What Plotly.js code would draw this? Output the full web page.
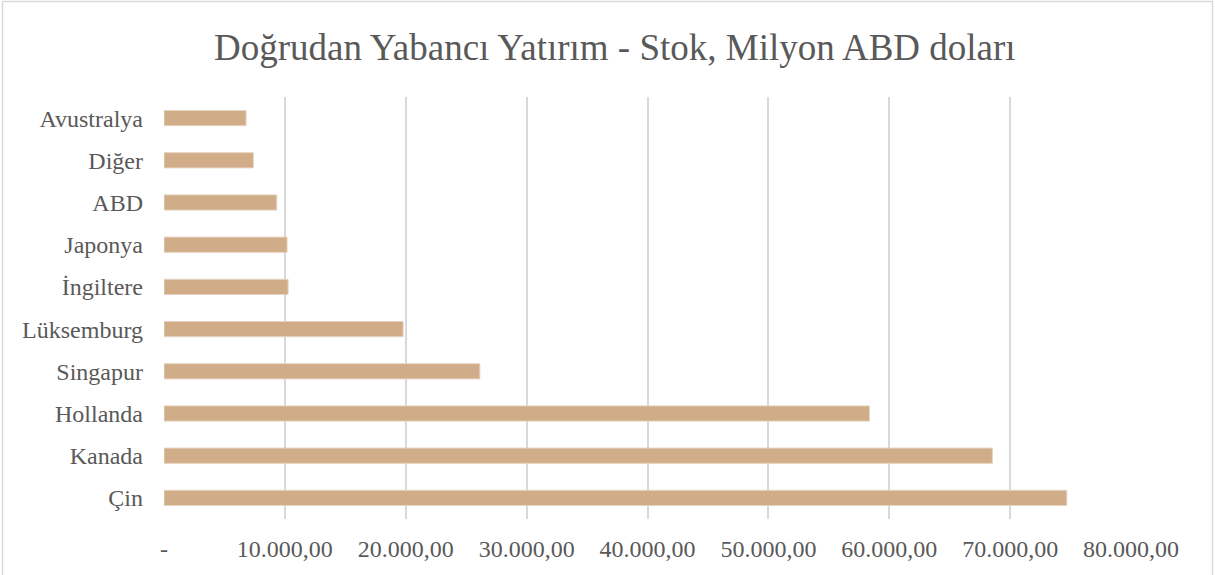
<!DOCTYPE html>
<html>
<head>
<meta charset="utf-8">
<script src="https://cdn.plot.ly/plotly-3.0.1.min.js"></script>
<style>html,body{margin:0;padding:0;background:#fff;}#chart{width:1215px;height:575px;}</style>
</head>
<body>
<div id="chart"></div>
<script>
var categories = ["Çin", "Kanada", "Hollanda", "Singapur", "Lüksemburg", "İngiltere", "Japonya", "ABD", "Diğer", "Avustralya"];
var values = [74690, 68530, 58360, 26130, 19785, 10265, 10180, 9330, 7390, 6790];
var tickValues = [0, 10000, 20000, 30000, 40000, 50000, 60000, 70000, 80000];
var tickLabels = ["-", "10.000,00", "20.000,00", "30.000,00", "40.000,00", "50.000,00", "60.000,00", "70.000,00", "80.000,00"];
var chartTitle = "Doğrudan Yabancı Yatırım - Stok, Milyon ABD doları";

var font = "Liberation Serif, Times New Roman, DejaVu Serif, serif";
var textColor = "#595959";

var trace = {
  type: "bar",
  orientation: "h",
  x: values,
  y: categories,
  marker: {color: "#D0AC88", line: {color: "#E6D3BF", width: 1}},
  hoverinfo: "x+y"
};

var L = 164, R = 1131, T = 97, B = 519, W = 1215, H = 575;
var pw = R - L, ph = B - T;

var layout = {
  width: W, height: H,
  margin: {l: L, r: W - R, t: T, b: H - B, pad: 0},
  paper_bgcolor: "#ffffff",
  plot_bgcolor: "#ffffff",
  showlegend: false,
  bargap: 0.64,
  font: {family: font, color: textColor},
  title: {
    text: chartTitle,
    font: {family: font, size: 37, color: textColor},
    x: 0.506, xanchor: "center", xref: "container",
    y: 1 - 47 / H, yanchor: "middle", yref: "container"
  },
  xaxis: {
    range: [0, 80000],
    tickmode: "array",
    tickvals: tickValues,
    ticktext: tickLabels,
    showgrid: true,
    gridcolor: "#d9d9d9",
    gridwidth: 1.5,
    zeroline: false,
    showline: false,
    ticks: "",
    ticklabelstandoff: 13,
    tickfont: {family: font, size: 24, color: textColor},
    fixedrange: true
  },
  yaxis: {
    type: "category",
    categoryorder: "array",
    categoryarray: categories,
    showgrid: false,
    zeroline: false,
    showline: false,
    ticks: "",
    ticklabelstandoff: 20,
    tickfont: {family: font, size: 24, color: textColor},
    fixedrange: true
  },
  shapes: [{
    type: "rect", xref: "paper", yref: "paper",
    x0: (2.5 - L) / pw, x1: (1212.5 - L) / pw,
    y0: (B - 580) / ph, y1: (B - 1.5) / ph,
    line: {color: "#d9d9d9", width: 1.5},
    fillcolor: "rgba(0,0,0,0)", layer: "below"
  }]
};

Plotly.newPlot("chart", [trace], layout, {displayModeBar: false});
</script>
</body>
</html>
